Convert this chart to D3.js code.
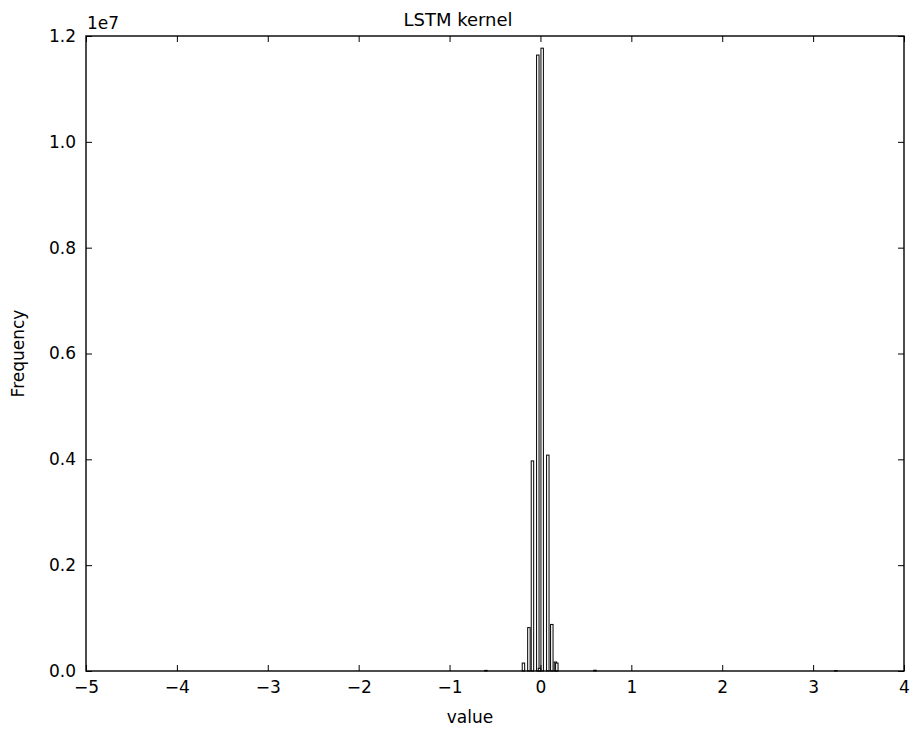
<!DOCTYPE html>
<html>
<head>
<meta charset="utf-8">
<script src="https://cdn.jsdelivr.net/npm/d3@7"></script>
<style>
  body { margin: 0; background: #fff; }
  svg text { font-family: "DejaVu Sans", sans-serif; fill: #000; }
</style>
</head>
<body>
<div id="chart"></div>
<script>
// histogram bins (centre of bin, in value units) and counts
var binCenters = [-0.60, -0.187, -0.127, -0.088, -0.029, -0.011, 0.019, 0.081, 0.125, 0.165, 0.180, 0.60, 3.25];
var binCounts  = [12000, 150000, 820000, 3970000, 11640000, 50000, 11770000, 4080000, 880000, 170000, 150000, 15000, 8000];
var binWidth = 0.027;
var xTicks = [-5, -4, -3, -2, -1, 0, 1, 2, 3, 4];
var yTicks = [0, 2e6, 4e6, 6e6, 8e6, 10e6, 12e6];

var margin = {top: 36, right: 9, bottom: 63, left: 86},
    width = 913 - margin.left - margin.right,
    height = 734 - margin.top - margin.bottom;

var svg = d3.select('#chart')
  .append('svg')
  .attr('width', 913)
  .attr('height', 734)
  .append('g')
  .attr('transform', 'translate(' + margin.left + ',' + margin.top + ')');

var x = d3.scaleLinear().domain([-5, 4]).range([0, width]);
var y = d3.scaleLinear().domain([0, 1.2e7]).range([height, 0]);

// bars
svg.selectAll('rect.bar')
  .data(binCenters.map(function(c, i){ return {c: c, v: binCounts[i]}; }))
  .enter()
  .append('rect')
  .attr('class', 'bar')
  .attr('x', function(d){ return x(d.c - binWidth / 2); })
  .attr('width', function(d){ return x(d.c + binWidth / 2) - x(d.c - binWidth / 2); })
  .attr('y', function(d){ return y(d.v); })
  .attr('height', function(d){ return height - y(d.v); })
  .attr('fill', '#fff')
  .attr('stroke', '#000')
  .attr('stroke-width', 1);

var tickLen = 6;
var fmtY = function(d){ return (d / 1e7).toFixed(1); };
var fmtX = function(d){ return d < 0 ? '\u2212' + Math.abs(d) : '' + d; };

// bottom axis, ticks pointing inward
var xb = svg.append('g')
  .attr('transform', 'translate(0,' + height + ')')
  .call(d3.axisBottom(x).tickValues(xTicks).tickSizeInner(-tickLen).tickSizeOuter(0).tickPadding(10).tickFormat(fmtX));
xb.select('.domain').remove();
xb.selectAll('text').style('font-size', '17px');

// top ticks
var xt = svg.append('g')
  .call(d3.axisTop(x).tickValues(xTicks).tickSizeInner(-tickLen).tickSizeOuter(0).tickFormat(''));
xt.select('.domain').remove();

// left axis
var yl = svg.append('g')
  .call(d3.axisLeft(y).tickValues(yTicks).tickSizeInner(-tickLen).tickSizeOuter(0).tickPadding(10).tickFormat(fmtY));
yl.select('.domain').remove();
yl.selectAll('text').style('font-size', '17px');

// right ticks
var yr = svg.append('g')
  .attr('transform', 'translate(' + width + ',0)')
  .call(d3.axisRight(y).tickValues(yTicks).tickSizeInner(-tickLen).tickSizeOuter(0).tickFormat(''));
yr.select('.domain').remove();

svg.selectAll('.tick line').attr('stroke', '#000');

// frame
svg.append('rect')
  .attr('width', width)
  .attr('height', height)
  .attr('fill', 'none')
  .attr('stroke', '#000')
  .attr('stroke-width', 1.4);

// offset label
svg.append('text')
  .attr('x', 1)
  .attr('y', -7)
  .style('font-size', '17px')
  .text('1e7');

// title
svg.append('text')
  .attr('x', 458 - margin.left)
  .attr('y', -10)
  .attr('text-anchor', 'middle')
  .style('font-size', '18px')
  .text('LSTM kernel');

// axis labels
svg.append('text')
  .attr('x', 470 - margin.left)
  .attr('y', height + 52)
  .attr('text-anchor', 'middle')
  .style('font-size', '17px')
  .text('value');

svg.append('text')
  .attr('transform', 'rotate(-90)')
  .attr('x', -height / 2)
  .attr('y', -62)
  .attr('text-anchor', 'middle')
  .style('font-size', '17px')
  .text('Frequency');
</script>
</body>
</html>
